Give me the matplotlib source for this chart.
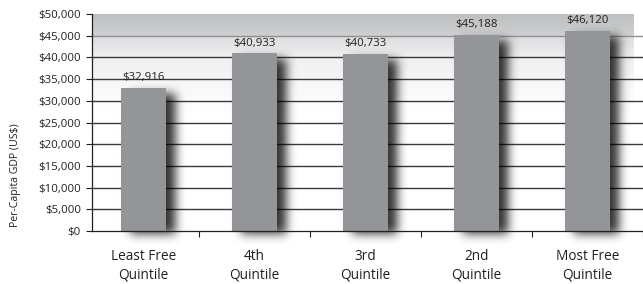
import numpy as np
import matplotlib

matplotlib.use("Agg")
import matplotlib.pyplot as plt
from matplotlib.colors import LinearSegmentedColormap
from math import erf

# data
categories = ["Least Free\nQuintile", "4th\nQuintile", "3rd\nQuintile", "2nd\nQuintile", "Most Free\nQuintile"]
gdp = [32916, 40933, 40733, 45188, 46120]
yticks = list(range(0, 50001, 5000))

BAR = "#939598"
INK = "#231f20"
plt.rcParams["font.family"] = ["Open Sans", "DejaVu Sans"]

fig = plt.figure(figsize=(6.43, 2.84), dpi=100)
ax = fig.add_axes([92 / 643, 1 - 231 / 284, 1 - 92 / 643, 217 / 284])

x = np.arange(len(gdp))
xlim = (-0.465, 4.415)
ax.set_xlim(*xlim)
ax.set_ylim(0, 50000)

# gradient background: darker band on top, fading to white lower down
grad = np.linspace(0, 1, 500).reshape(-1, 1)
bg = LinearSegmentedColormap.from_list(
    "bg", [(0, "white"), (0.56, "white"), (0.8, "#f0f0f1"), (0.899, "#dcdddf"),
           (0.901, "#cfd0d1"), (1.0, "#bebfc0")])
ax.imshow(grad, cmap=bg, origin="lower", aspect="auto",
          extent=(xlim[0], xlim[1], 0, 50000), zorder=0)

# horizontal grid
for t in yticks[1:-1]:
    ax.axhline(t, color="#3a3a3a" if t < 45000 else "#8f9092", lw=1.0, zorder=1)

# soft drop shadows
px_x = (xlim[1] - xlim[0]) / 551
px_y = 50000 / 217
gx = np.linspace(xlim[0], xlim[1], 600)
gy = np.linspace(-6000, 50000, 400)
GX, GY = np.meshgrid(gx, gy)
verf = np.vectorize(erf)
shadow = np.zeros_like(GX)
w = 0.41
sig = 5.0
for xi, h in zip(x, gdp):
    x0, x1 = xi - w / 2 + 9 * px_x, xi + w / 2 + 9 * px_x
    y0, y1 = -3 * px_y, h - 6 * px_y
    fx = 0.5 * (verf((GX - x0) / (sig * px_x * 1.4)) - verf((GX - x1) / (sig * px_x * 1.4)))
    fy = 0.5 * (verf((GY - y0) / (sig * px_y * 1.4)) - verf((GY - y1) / (sig * px_y * 1.4)))
    shadow = np.maximum(shadow, fx * fy)
rgba = np.zeros(shadow.shape + (4,))
rgba[..., 3] = shadow * 0.8
im = ax.imshow(rgba, origin="lower", aspect="auto",
               extent=(xlim[0], xlim[1], -6000, 50000), zorder=2)
im.set_clip_on(False)

ax.bar(x, gdp, width=w, color=BAR, zorder=3)
for xi, h in zip(x, gdp):
    ax.text(xi, h + 1100, f"${h:,}", ha="center", va="bottom", fontsize=8.2,
            color=INK, zorder=4)

ax.set_yticks(yticks)
ax.set_yticklabels([f"${t:,}" for t in yticks], fontsize=8.2, color=INK)
ax.set_xticks(x)
ax.set_xticklabels(categories, fontsize=9.8, color=INK, linespacing=1.35)
ax.tick_params(axis="x", length=0, pad=13)
ax.tick_params(axis="y", length=4, width=0.8, color=INK, pad=4)
ax.set_xticks(np.arange(len(gdp)) + 0.5, minor=True)
ax.tick_params(axis="x", which="minor", length=4, width=0.8, color=INK)
ax.set_ylabel("Per-Capita GDP (US$)", fontsize=7.6, color=INK)
ax.yaxis.set_label_coords(-0.128, 0.258)

for s in ["top", "right"]:
    ax.spines[s].set_visible(False)
for s in ["left", "bottom"]:
    ax.spines[s].set_color(INK)
    ax.spines[s].set_linewidth(0.9)
    ax.spines[s].set_zorder(5)

fig.savefig("out.png", dpi=100)
